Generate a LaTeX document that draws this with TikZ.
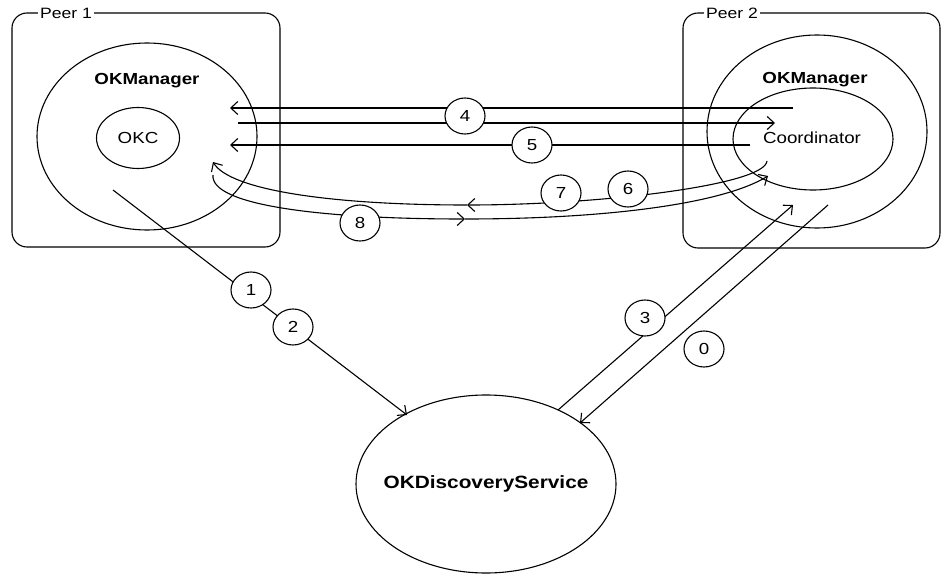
\documentclass[tikz,border=0pt]{standalone}
\usepackage{fontspec}
\setmainfont{Liberation Sans}[FakeStretch=1.17]
\usetikzlibrary{shapes.geometric,arrows.meta}
\begin{document}
\begin{tikzpicture}[x=1pt,y=-1pt,
  every path/.style={line width=1.1pt},
  peerbox/.style={draw,rounded corners=15pt},
  peerlabel/.style={fill=white,inner sep=2pt,font=\fontsize{15}{17}\selectfont},
  oval/.style={draw,ellipse,inner sep=0pt},
  numoval/.style={draw,ellipse,fill=white,inner sep=0pt,minimum width=40pt,minimum height=36pt,font=\fontsize{16}{18}\selectfont},
  boldtxt/.style={font=\fontsize{16}{18}\selectfont\bfseries},
  plaintxt/.style={font=\fontsize{16}{18}\selectfont},
  arr/.style={-{Straight Barb[length=7pt,width=13pt]}}]
\useasboundingbox (0,0) rectangle (942,575);
% Peer boxes
\draw[peerbox] (12,13) rectangle (280,247);
\draw[peerbox] (683,13) rectangle (940,248);
\node[peerlabel] (p1) at (66,13) {Peer 1};
\node[peerlabel] (p2) at (732,13) {Peer 2};
% Ellipses
\node[oval,minimum width=220pt,minimum height=187pt] (m1) at (147,136.5) {};
\node[boldtxt] (m1t) at (147,81) {OKManager};
\node[oval,minimum width=83pt,minimum height=61pt] (okc) at (138,138) {};
\node[plaintxt] at (okc) {OKC};
\node[oval,minimum width=220pt,minimum height=193pt] (m2) at (817,131.5) {};
\node[boldtxt] (m2t) at (815,80) {OKManager};
\node[oval,minimum width=160pt,minimum height=102pt] (co) at (813,139) {};
\node[plaintxt] at (812,138) {Coordinator};
\node[oval,minimum width=260pt,minimum height=178pt] (ds) at (486,484) {};
\node[font=\fontsize{17.8}{20}\selectfont\bfseries] at (ds) {OKDiscoveryService};
% endpoints
\coordinate (a4s) at (793,108); \coordinate (a4e) at (230,108);
\coordinate (b4s) at (238,123); \coordinate (b4e) at (775,123);
\coordinate (a5s) at (750,145); \coordinate (a5e) at (230,145);
\coordinate (c6s) at (767,161); \coordinate (c6m) at (467,205); \coordinate (c6e) at (213,162);
\coordinate (c8s) at (213,175); \coordinate (c8m) at (465,219); \coordinate (c8e) at (768,176);
\coordinate (l1s) at (113,190); \coordinate (l1e) at (407,415);
\coordinate (l3s) at (558,410); \coordinate (l3e) at (793,205);
\coordinate (l0s) at (828,205); \coordinate (l0e) at (580,423);
% connectors
\draw[arr] (a4s) -- (a4e);
\draw[arr] (b4s) -- (b4e);
\draw[arr] (a5s) -- (a5e);
\draw[arr] (c6s) .. controls (765,185) and (600,205) .. (c6m);
\draw[arr] (c6m) .. controls (330,205) and (230,190) .. (c6e);
\draw[arr] (c8s) .. controls (210,205) and (320,219) .. (c8m);
\draw[arr] (c8m) .. controls (600,219) and (720,205) .. (c8e);
\draw[arr] (l1s) -- (l1e);
\draw[arr] (l3s) -- (l3e);
\draw[arr] (l0s) -- (l0e);
% number labels
\node[numoval] (n4) at (465,116) {4};
\node[numoval] (n5) at (532,145) {5};
\node[numoval] (n7) at (561,193) {7};
\node[numoval] (n6) at (628,189) {6};
\node[numoval] (n8) at (360,223) {8};
\node[numoval] (n1) at (251,290) {1};
\node[numoval] (n2) at (293,327) {2};
\node[numoval] (n3) at (645,318) {3};
\node[numoval] (n0) at (704,349) {0};
\end{tikzpicture}
\end{document}
